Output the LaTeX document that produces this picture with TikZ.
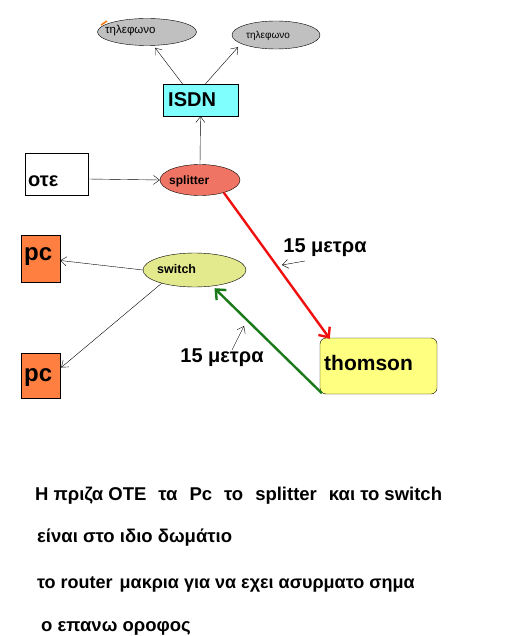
\documentclass[tikz,border=0pt]{standalone}
\usepackage{fontspec}
\setmainfont{Liberation Sans}
\usetikzlibrary{shapes.geometric,arrows.meta}
\definecolor{telgray}{HTML}{C0C0C0}
\definecolor{isdncyan}{HTML}{80FFFF}
\definecolor{splitsalmon}{HTML}{F07464}
\definecolor{pcorange}{HTML}{FF7F40}
\definecolor{switchgreen}{HTML}{E3EA8E}
\definecolor{thomyellow}{HTML}{FFFF80}
\definecolor{redline}{HTML}{F01010}
\definecolor{greenline}{HTML}{1A7A1A}
\tikzset{
  ell/.style={draw=black, ellipse, inner sep=0pt},
  box/.style={draw=black, rectangle, inner sep=0pt},
  arr/.style={draw=black, thin, -{Straight Barb[length=6pt,width=9pt]}},
  fatarr/.style={line width=2.4pt, -{Straight Barb[length=8pt,width=14pt,line width=2.4pt]}},
  meas/.style={font=\fontsize{20}{23}\selectfont\bfseries},
  note/.style={anchor=base west, font=\fontsize{18.5}{21}\selectfont\bfseries},
}
\begin{document}
\begin{tikzpicture}[x=1pt,y=-1pt]
\useasboundingbox[fill=white] (0,0) rectangle (526,636);

% telephones
\node[ell, fill=telgray, minimum width=99pt, minimum height=27pt] (tel1) at (147,32) {};
\node[anchor=west, font=\fontsize{11.5}{13}\selectfont, inner sep=0pt] (tel1t) at (105,31) {τηλεφωνο};
\draw[orange!90!red, line width=1.4pt] (101,25) -- (107,21);
\node[ell, fill=telgray, minimum width=88pt, minimum height=28pt] (tel2) at (276,35) {};
\node[anchor=west, font=\fontsize{10}{12}\selectfont, inner sep=0pt] (tel2t) at (246,36) {τηλεφωνο};

% ISDN
\node[box, fill=isdncyan, minimum width=75pt, minimum height=32pt] (isdn) at (200.5,100) {};
\node[anchor=west, font=\fontsize{20}{24}\selectfont\bfseries, inner sep=0pt] (isdnt) at (168,100) {ISDN};

% OTE
\node[box, fill=white, minimum width=63pt, minimum height=42pt] (ote) at (56.5,174) {};
\node[anchor=base west, font=\fontsize{20}{23}\selectfont\bfseries, inner sep=0pt] (otet) at (28,187) {οτε};

% splitter
\node[ell, fill=splitsalmon, minimum width=80pt, minimum height=31pt] (splitter) at (200,180) {};
\node[anchor=west, font=\fontsize{12}{14}\selectfont\bfseries, inner sep=0pt] (splittert) at (169,181) {splitter};

% switch
\node[ell, fill=switchgreen, minimum width=103pt, minimum height=34pt] (switch) at (194.5,270) {};
\node[anchor=west, font=\fontsize{12.5}{14}\selectfont\bfseries, inner sep=0pt] (switcht) at (157,269) {switch};

% pcs
\node[box, fill=pcorange, minimum width=39pt, minimum height=47pt] (pc1) at (40.5,258.5) {};
\node[anchor=west, font=\fontsize{24}{28}\selectfont\bfseries, inner sep=0pt] (pc1t) at (24,257) {pc};
\node[box, fill=pcorange, minimum width=39pt, minimum height=45pt] (pc2) at (40.5,375.5) {};
\node[anchor=west, font=\fontsize{24}{28}\selectfont\bfseries, inner sep=0pt] (pc2t) at (24,378) {pc};

% thomson
\node[draw=black, rectangle, rounded corners=6pt, fill=thomyellow, minimum width=117pt, minimum height=56pt] (thomson) at (378.5,366) {};
\node[anchor=west, font=\fontsize{21}{25}\selectfont\bfseries, inner sep=0pt] (thomsont) at (324,363) {thomson};

% connectors
\draw[arr] ([xshift=-18pt]isdn.north) -- ([xshift=8pt,yshift=-2pt]tel1.south);
\draw[arr] ([xshift=5pt]isdn.north) -- ([xshift=-38pt,yshift=2pt]tel2.south);
\draw[arr] (splitter.north) -- (isdn.south);
\draw[arr] ([yshift=-5pt]ote.east) -- (splitter.west);
\draw[arr] (switch.west) -- ([yshift=-2pt]pc1.east);
\draw[arr] (switch.-158) -- ([yshift=8pt,xshift=1pt]pc2.east);

\draw[fatarr, draw=redline] (splitter.-28) -- ([xshift=10pt,yshift=-1pt]thomson.north west);
\draw[fatarr, draw=greenline] ([xshift=2pt,yshift=1pt]thomson.south west) -- ([xshift=20pt,yshift=-1pt]switch.south);

% distance labels
\node[meas, inner sep=0pt] (m1) at (325,248) {15 μετρα};
\node[meas, inner sep=0pt] (m2) at (222,358) {15 μετρα};
\coordinate (m1a) at (305,261);
\coordinate (m1b) at (282,265);
\coordinate (m2a) at (232,350);
\coordinate (m2b) at (244,326);
\draw[arr] (m1a) -- (m1b);
\draw[arr] (m2a) -- (m2b);

% notes
\node[note, inner sep=0pt] (n1) at (35,500) {Η πριζα ΟΤΕ\hspace{12pt}τα\hspace{12pt}Pc\hspace{12pt}το\hspace{12pt}splitter\hspace{12pt}και το switch};
\node[note, inner sep=0pt] (n2) at (37,542) {είναι στο ιδιο δωμάτιο};
\node[note, inner sep=0pt, font=\fontsize{18}{21}\selectfont\bfseries] (n3) at (37,588) {το router\hspace{7pt}μακρια για να εχει ασυρματο σημα};
\node[note, inner sep=0pt] (n4) at (41,631) {ο επανω οροφος};
\end{tikzpicture}
\end{document}
